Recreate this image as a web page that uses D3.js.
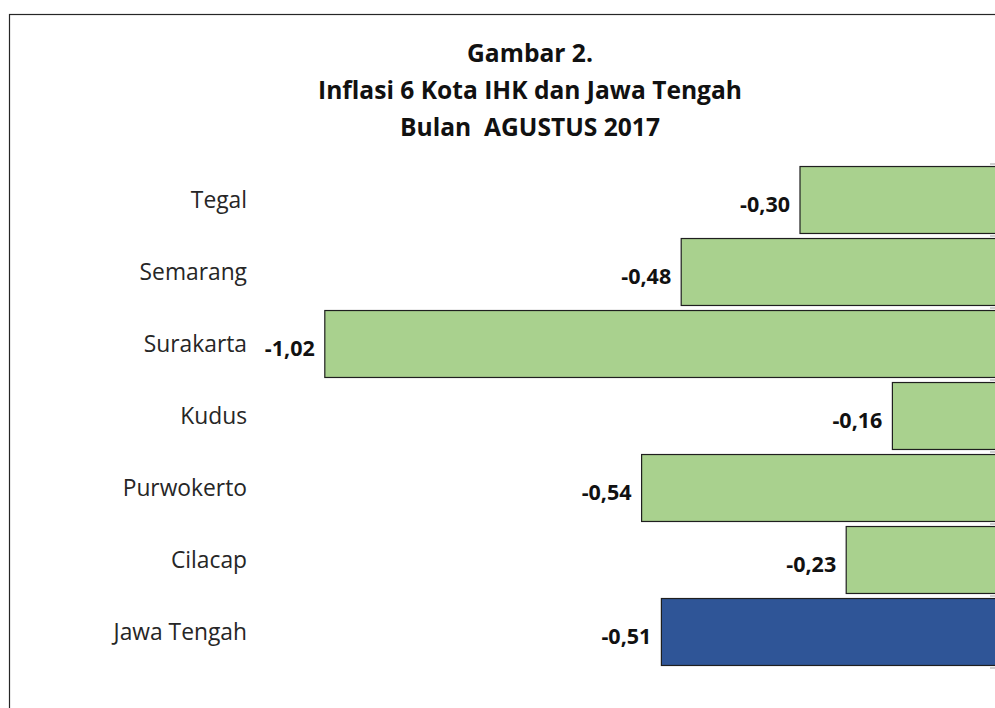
<!DOCTYPE html>
<html>
<head>
<meta charset="utf-8">
<script src="https://cdn.jsdelivr.net/npm/d3@7"></script>
<style>
  html, body { margin: 0; padding: 0; background: #fff; overflow: hidden; }
  svg { display: block; font-family: 'Open Sans', 'Noto Sans', sans-serif; }
</style>
</head>
<body>
<div id="chart"></div>
<script>
const titleLines = ['Gambar 2.', 'Inflasi 6 Kota IHK dan Jawa Tengah', 'Bulan  AGUSTUS 2017'];
const cities = ['Tegal', 'Semarang', 'Surakarta', 'Kudus', 'Purwokerto', 'Cilacap', 'Jawa Tengah'];
const inflation = [-0.30, -0.48, -1.02, -0.16, -0.54, -0.23, -0.51];
const xDomain = [-1.2, 0];

const W = 995, H = 708;
const GREEN = '#a9d18e', BLUE = '#2f5597';

const svg = d3.select('#chart').append('svg').attr('width', W).attr('height', H);
svg.append('rect').attr('width', W).attr('height', H).attr('fill', '#fff');

// chart frame (continues past the right and bottom edge)
svg.append('rect').attr('x', 9.5).attr('y', 14.5).attr('width', 1200).attr('height', 1200)
  .attr('fill', 'none').attr('stroke', '#262626').attr('stroke-width', 1.2);

// title
svg.append('g').selectAll('text').data(titleLines).join('text')
  .attr('x', 530).attr('y', (d, i) => 62 + i * 37)
  .attr('text-anchor', 'middle').attr('font-size', 24.6).attr('font-weight', 700)
  .attr('fill', '#111').attr('xml:space', 'preserve').style('white-space', 'pre')
  .text(d => d);

const data = cities.map((c, i) => ({ city: c, v: inflation[i] }));

const x = d3.scaleLinear().domain(xDomain).range([206, 998]);
const y = d3.scaleBand().domain(cities).range([164, 668]).paddingInner(0.07).paddingOuter(0.035);

// bars
svg.append('g').selectAll('rect').data(data).join('rect')
  .attr('x', d => x(d.v)).attr('y', d => y(d.city))
  .attr('width', d => x(0) - x(d.v)).attr('height', y.bandwidth())
  .attr('fill', d => d.city === 'Jawa Tengah' ? BLUE : GREEN)
  .attr('stroke', '#1f1f1f').attr('stroke-width', 1.2);

// category axis at zero, tick marks between categories
const axisG = svg.append('g');
axisG.append('line').attr('x1', x(0)).attr('x2', x(0)).attr('y1', 164).attr('y2', 668)
  .attr('stroke', '#bfbfbf');
const bounds = d3.range(cities.length + 1).map(i => 164 + i * y.step());
axisG.selectAll('line.tick').data(bounds).join('line').attr('class', 'tick')
  .attr('x1', x(0) - 8).attr('x2', x(0)).attr('y1', d => d).attr('y2', d => d)
  .attr('stroke', '#bfbfbf').attr('stroke-width', 1.5);

// category labels
svg.append('g').selectAll('text').data(cities).join('text')
  .attr('x', 247).attr('y', d => y(d) + y.bandwidth() / 2).attr('dy', '0.36em')
  .attr('text-anchor', 'end').attr('font-size', 22.8).attr('fill', '#262626')
  .text(d => d);

// value labels
const fmt = v => d3.format('.2f')(v).replace('−', '-').replace('.', ',');
svg.append('g').selectAll('text').data(data).join('text')
  .attr('x', d => x(d.v) - 10).attr('y', d => y(d.city) + y.bandwidth() / 2 + 4).attr('dy', '0.36em')
  .attr('text-anchor', 'end').attr('font-size', 21.5).attr('font-weight', 700).attr('fill', '#111')
  .text(d => fmt(d.v));
</script>
</body>
</html>
